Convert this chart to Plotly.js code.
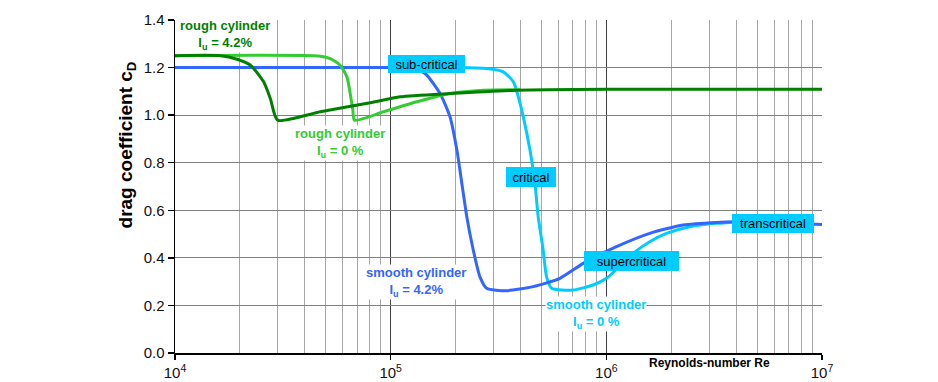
<!DOCTYPE html>
<html>
<head>
<meta charset="utf-8">
<script src="https://cdn.plot.ly/plotly-3.0.1.min.js"></script>
<style>html,body{margin:0;padding:0;background:#fff;}#chart{width:938px;height:382px;}</style>
</head>
<body>
<div id="chart"></div>
<script>
// Reynolds number values and drag coefficients
var roughTurbRe = [1.0e4, 1.626e4, 1.941e4, 2.239e4, 2.576e4, 2.767e4, 2.992e4, 4.72e4, 8.04e4, 1.107e5, 1.888e5, 3.837e5, 1.0e6, 1.0e7];
var roughTurbCd = [1.25, 1.25, 1.235, 1.21, 1.14, 1.07, 0.979, 1.014, 1.052, 1.077, 1.091, 1.105, 1.109, 1.109];

var roughLamRe = [1.0e4, 4.72e4, 5.25e4, 5.83e4, 6.27e4, 6.49e4, 6.68e4, 6.79e4, 9.27e4, 1.321e5, 1.888e5, 2.692e5, 4.0e5];
var roughLamCd = [1.25, 1.248, 1.238, 1.21, 1.161, 1.091, 1.021, 0.979, 1.014, 1.056, 1.091, 1.105, 1.107];

var smoothTurbRe = [1.0e4, 1.0e5, 1.26e5, 1.445e5, 1.694e5, 1.884e5, 2.028e5, 2.138e5, 2.254e5, 2.415e5, 2.594e5, 2.786e5, 3.451e5, 4.581e5, 6.095e5, 7.816e5, 1.114e6, 1.589e6, 2.27e6, 3.236e6, 5.012e6, 9.397e6, 1.0e7];
var smoothTurbCd = [1.2, 1.2, 1.198, 1.175, 1.091, 0.993, 0.853, 0.713, 0.573, 0.433, 0.32, 0.272, 0.262, 0.279, 0.314, 0.377, 0.447, 0.503, 0.538, 0.549, 0.553, 0.541, 0.54];

var smoothLamRe = [1.0e4, 2.0e5, 2.786e5, 3.327e5, 3.707e5, 3.908e5, 4.121e5, 4.426e5, 4.667e5, 4.831e5, 5.093e5, 5.284e5, 5.572e5, 7.015e5, 8.69e5, 1.002e6, 1.33e6, 1.589e6, 1.901e6, 2.438e6, 3.236e6, 3.981e6];
var smoothLamCd = [1.2, 1.2, 1.196, 1.182, 1.14, 1.077, 0.993, 0.853, 0.713, 0.573, 0.433, 0.32, 0.272, 0.265, 0.286, 0.314, 0.419, 0.468, 0.503, 0.531, 0.545, 0.55];

var xTickVals = [1e4, 1e5, 1e6, 1e7];
var xTickText = ['10<sup>4</sup>', '10<sup>5</sup>', '10<sup>6</sup>', '10<sup>7</sup>'];

var minorVals = [];
for (var d = 4; d < 7; d++) { for (var m = 2; m <= 9; m++) { minorVals.push(m * Math.pow(10, d)); } }

var FONT = 'Arial, "Liberation Sans", sans-serif';
var cDark = '#008000', cLight = '#33cc33', cBlue = '#3366ff', cCyan = '#00ccff';

function tr(x, y, c, w) {
  return {x: x, y: y, type: 'scatter', mode: 'lines', line: {color: c, width: w, shape: 'spline', smoothing: 0.6}, hoverinfo: 'skip', showlegend: false};
}
var data = [
  tr(smoothLamRe, smoothLamCd, cCyan, 3),
  tr(smoothTurbRe, smoothTurbCd, cBlue, 3),
  tr(roughLamRe, roughLamCd, cLight, 3),
  tr(roughTurbRe, roughTurbCd, cDark, 3)
];

function lbl(x, y, text, color) {
  return {x: x, y: y, xref: 'x', yref: 'y', text: text, showarrow: false,
    font: {family: FONT, size: 13, color: color}, bgcolor: '#ffffff', borderpad: 0, xanchor: 'center', yanchor: 'middle'};
}
function box(x, y, text, w, h) {
  return {x: x, y: y, xref: 'x', yref: 'y', text: text, showarrow: false, width: w, height: h,
    font: {family: FONT, size: 13, color: '#000'}, bgcolor: '#00ccff', borderpad: 0, borderwidth: 0, xanchor: 'center', yanchor: 'middle'};
}

var annotations = [
  lbl(4.232, 1.336, '<b>rough cylinder</b><br><b>I<sub>u</sub> = 4.2%</b>', cDark),
  lbl(4.764, 0.883, '<b>rough cylinder</b><br><b>I<sub>u</sub> = 0 %</b>', cLight),
  lbl(5.116, 0.300, '<b>smooth cylinder</b><br><b>I<sub>u</sub> = 4.2%</b>', cBlue),
  lbl(5.951, 0.166, '<b>smooth cylinder</b><br><b>I<sub>u</sub> = 0 %</b>', cCyan),
  box(5.168, 1.213, 'sub-critical', 77, 18),
  box(5.650, 0.738, 'critical', 50, 20),
  box(6.117, 0.387, 'supercritical', 95, 20),
  box(6.775, 0.543, 'transcritical', 82, 19),
  {xref: 'paper', yref: 'paper', x: -0.0748, y: 0.625, text: '<b>drag coefficient c<sub>D</sub></b>', textangle: -90, showarrow: false,
    font: {family: FONT, size: 19, color: '#000'}, xanchor: 'center', yanchor: 'middle'},
  {xref: 'paper', yref: 'paper', x: 0.826, y: -0.031, text: '<b>Reynolds-number Re</b>', showarrow: false,
    font: {family: '"Liberation Sans Narrow", "Arial Narrow", Arial, "Liberation Sans", sans-serif', size: 12, color: '#000'}, xanchor: 'center', yanchor: 'middle'}
];

var layout = {
  width: 938, height: 382,
  margin: {l: 174.5, r: 115.5, t: 20, b: 29, pad: 0},
  paper_bgcolor: '#fff', plot_bgcolor: '#fff',
  showlegend: false,
  xaxis: {
    type: 'log', range: [4, 7], tickmode: 'array', tickvals: xTickVals, ticktext: xTickText,
    showgrid: true, gridcolor: '#404040', gridwidth: 1,
    showline: true, linecolor: '#000', linewidth: 2,
    ticks: 'outside', ticklen: 5, tickwidth: 1.5, tickcolor: '#000',
    tickfont: {family: FONT, size: 15, color: '#111'},
    zeroline: false,
    minor: {tickmode: 'array', tickvals: minorVals, showgrid: true, gridcolor: '#a6a6a6', gridwidth: 1, ticks: ''}
  },
  yaxis: {
    range: [0, 1.4], tick0: 0, dtick: 0.2, tickformat: '.1f',
    showgrid: true, gridcolor: '#808080', gridwidth: 1,
    showline: true, linecolor: '#000', linewidth: 1.5,
    ticks: 'outside', ticklen: 6, tickwidth: 1.5, tickcolor: '#000',
    tickfont: {family: FONT, size: 15, color: '#111'},
    zeroline: false
  },
  annotations: annotations
};

Plotly.newPlot('chart', data, layout, {staticPlot: true, displayModeBar: false});
</script>
</body>
</html>
